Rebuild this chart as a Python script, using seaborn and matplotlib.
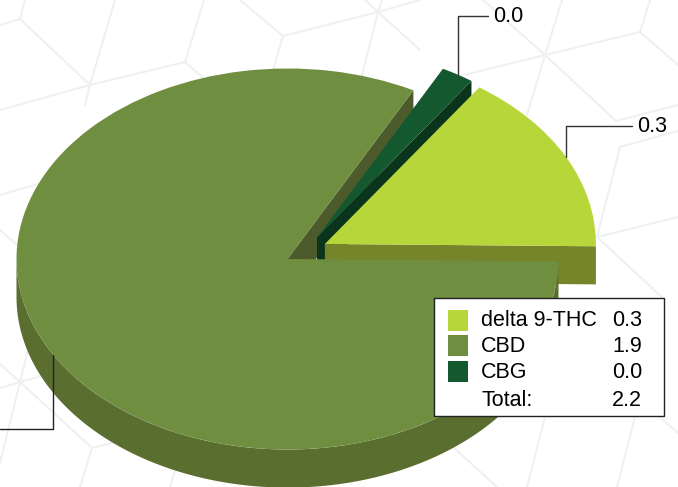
import numpy as np
import matplotlib
matplotlib.use('Agg')
import matplotlib.pyplot as plt
from matplotlib.patches import Rectangle
import seaborn as sns

# chart data
names = ['delta 9-THC', 'CBD', 'CBG']
values = [0.349, 1.852, 0.044]
total_label = 'Total:'
top_colors = ['#B7D63A', '#708E3F', '#13582F']
rim_colors = ['#76842A', '#5A6E30', '#0A351C']
cut_color = '#4D5B2C'

# how far each slice is pulled out of the pie, in radii
offset_x = [0.138, 0.0, 0.109]
offset_y = [0.079, 0.0, 0.113]
start_angle = -0.7
depth = 0.2

# faint cube pattern behind the chart, in pixels
bg_lines = [
    [(0, 25), (20, 19), (25, 0)], [(20, 19), (90, 85), (115, 0)],
    [(0, 110), (90, 85), (185, 62), (204, 0)], [(185, 62), (210, 84)],
    [(90, 85), (85, 105)], [(240, 0), (283, 36), (378, 12), (420, 0)],
    [(283, 36), (273, 70)], [(365, 0), (378, 12), (382, 0)],
    [(378, 12), (362, 75)], [(378, 12), (420, 50)],
    [(483, 0), (545, 55), (562, 0)], [(460, 76), (545, 55), (640, 32), (650, 0)],
    [(640, 32), (678, 65)], [(545, 55), (616, 121), (678, 105)],
    [(545, 55), (527, 115)], [(678, 131), (620, 147), (597, 237), (678, 217)],
    [(597, 237), (665, 300)], [(0, 195), (38, 184)], [(0, 230), (17, 245)],
    [(0, 388), (20, 382), (45, 375)], [(0, 364), (20, 382), (28, 350)],
    [(0, 463), (20, 382), (92, 448), (115, 442)], [(92, 448), (80, 487)],
    [(170, 487), (176, 468)], [(545, 417), (527, 487)], [(635, 417), (617, 487)],
    [(453, 447), (497, 487)], [(660, 417), (678, 433)],
]

sns.set_theme(style='white')
plt.rcParams['font.family'] = ['Liberation Sans', 'DejaVu Sans']

fig = plt.figure(figsize=(6.78, 4.87), dpi=100)

bg = fig.add_axes([0, 0, 1, 1], zorder=0)
bg.set_xlim(0, 678)
bg.set_ylim(487, 0)
bg.axis('off')
for seg in bg_lines:
    xs, ys = zip(*seg)
    bg.plot(xs, ys, color='#EFF1F1', lw=1.5, solid_joinstyle='miter')

# pie on its own squashed axes, centre of the big slice is 0,0
ax = fig.add_axes([0, 0, 1, 1], zorder=1)
ax.patch.set_alpha(0)
order = [0, 2, 1]
wedges, _ = ax.pie([values[i] for i in order], colors=[top_colors[i] for i in order],
                   startangle=start_angle, wedgeprops={'linewidth': 0, 'edgecolor': 'none'})
rx, ry = 271, 190.5
ax.set_aspect('auto')
ax.set_xlim(-287.5 / rx, (678 - 287.5) / rx)
ax.set_ylim((259 - 487) / ry, 259 / ry)

delta_w, cbg_w, cbd_w = wedges
delta_w.set_center((offset_x[0], offset_y[0]))
cbg_w.set_center((offset_x[2], offset_y[2]))
delta_w.set_zorder(6)
cbg_w.set_zorder(4)
cbd_w.set_zorder(8)


def side_face(angle, dx, dy, color, z):
    # flat cut side of a slice, pushed down by the depth
    a = np.radians(angle)
    xs = [dx, dx + np.cos(a)]
    top = np.array([dy, dy + np.sin(a)])
    ax.fill_between(xs, top, top - depth, facecolor=color, edgecolor='none', lw=0, zorder=z)


side_face(cbd_w.theta1, 0, 0, cut_color, 2)
side_face(cbg_w.theta1, offset_x[2], offset_y[2], rim_colors[2], 3)
side_face(delta_w.theta1, offset_x[0], offset_y[0], rim_colors[0], 5)

# curved front of the big slice
t = np.radians(np.linspace(180, cbd_w.theta2, 300))
ax.fill_between(np.cos(t), np.sin(t), np.sin(t) - depth, facecolor=rim_colors[1],
                edgecolor='none', lw=0, zorder=7)

# leader lines, labels and legend box go on top, in pixels
top = fig.add_axes([0, 0, 1, 1], zorder=2)
top.set_xlim(0, 678)
top.set_ylim(487, 0)
top.axis('off')

fs = 15.5
top.plot([458, 458, 488], [75, 16, 16], color='#333333', lw=1)
top.text(493, 17, f'{values[2]:.1f}', fontsize=fs, color='black', va='center', ha='left')
top.plot([566, 566, 632], [157, 126, 126], color='#333333', lw=1)
top.text(637, 127, f'{values[0]:.1f}', fontsize=fs, color='black', va='center', ha='left')
top.plot([53, 53, 0], [355, 429, 429], color='#222222', lw=1)

top.add_patch(Rectangle((433.5, 297.5), 230, 118, facecolor='white', edgecolor='#222222', lw=1))
row_y = [320, 345, 371]
for name, val, color, y in zip(names, values, top_colors, row_y):
    top.add_patch(Rectangle((448, y - 10.5), 20, 21, facecolor=color, edgecolor='none'))
    top.text(481, y + 1, name, fontsize=fs, color='black', va='center', ha='left')
    top.text(642, y + 1, f'{val:.1f}', fontsize=fs, color='black', va='center', ha='right')
top.text(481, 400, total_label, fontsize=fs, color='black', va='center', ha='left')
top.text(642, 400, f'{sum(values):.1f}', fontsize=fs, color='black', va='center', ha='right')

fig.savefig('out.png', dpi=100)
